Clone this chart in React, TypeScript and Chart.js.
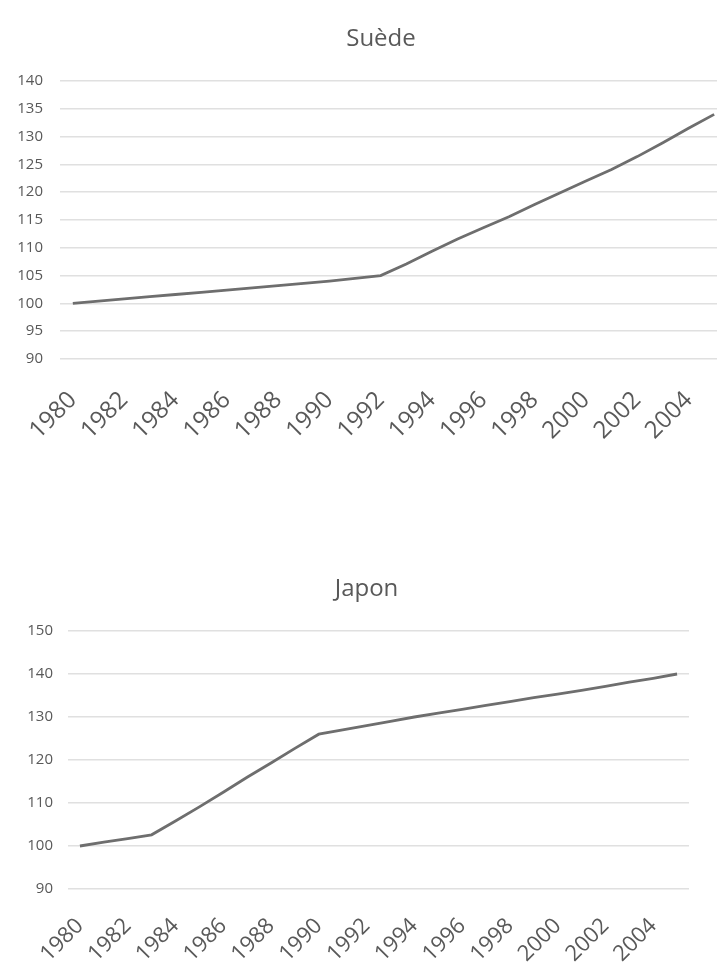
import React, { useEffect, useRef } from "react";
import { Chart, registerables } from "chart.js";

Chart.register(...registerables);

// Years 1980–2005, one point per year
const years = [
  "1980", "1981", "1982", "1983", "1984", "1985", "1986", "1987", "1988",
  "1989", "1990", "1991", "1992", "1993", "1994", "1995", "1996", "1997",
  "1998", "1999", "2000", "2001", "2002", "2003", "2004", "2005",
];

// Only every other year is labelled on the horizontal axis
const shownYears = [
  "1980", "1982", "1984", "1986", "1988", "1990", "1992",
  "1994", "1996", "1998", "2000", "2002", "2004",
];

// Index, 1980 = 100
const swedenValues = [
  100.0, 100.4, 100.8, 101.2, 101.6, 102.0, 102.4, 102.8, 103.2,
  103.6, 104.0, 104.5, 105.0, 107.1, 109.4, 111.6, 113.6, 115.6,
  117.8, 119.9, 122.0, 124.1, 126.4, 128.9, 131.5, 134.0,
];

const japanValues = [
  100.0, 100.9, 101.7, 102.6, 105.8, 109.1, 112.5, 116.0, 119.3,
  122.7, 126.0, 127.0, 128.0, 129.0, 130.0, 130.9, 131.8, 132.7,
  133.6, 134.5, 135.3, 136.2, 137.1, 138.1, 139.0, 140.0,
];

const FONT = "'Open Sans', 'Noto Sans', sans-serif";
const TEXT = "#595959";
const GRID = "#e0e0e0";
const LINE = "#6e6e6e";

type ChartProps = {
  title: string;
  values: number[];
  min: number;
  max: number;
  step: number;
  left: number;
  top: number;
  width: number;
  height: number;
  axisWidth: number;
  rightSpace: number;
  yLabelPad: number;
  xLabelPad: number;
  titleTop: number;
  titleBottom: number;
  titleSize: number;
  xFontSize: number;
  yFontSize: number;
};

function IndexChart(p: ChartProps) {
  const ref = useRef<HTMLCanvasElement>(null);

  useEffect(() => {
    const canvas = ref.current;
    if (!canvas) return;
    const chart = new Chart(canvas, {
      type: "line",
      data: {
        labels: years,
        datasets: [
          {
            label: p.title,
            data: p.values,
            borderColor: LINE,
            borderWidth: 2.8,
            pointRadius: 0,
            tension: 0,
            fill: false,
            yAxisID: "y",
          },
        ],
      },
      options: {
        responsive: false,
        animation: false,
        layout: { padding: 0 },
        plugins: {
          legend: { display: false },
          tooltip: { enabled: false },
          title: {
            display: true,
            text: p.title,
            color: TEXT,
            font: { family: FONT, size: p.titleSize, weight: "normal" },
            padding: { top: p.titleTop, bottom: p.titleBottom },
          },
        },
        scales: {
          x: {
            offset: true,
            grid: { display: false },
            border: { display: false },
            ticks: {
              autoSkip: false,
              minRotation: 45,
              maxRotation: 45,
              padding: p.xLabelPad,
              color: TEXT,
              font: { family: FONT, size: p.xFontSize },
              callback: (_v: any, i: number) =>
                shownYears.includes(years[i]) ? years[i] : "",
            },
            afterFit: (s: any) => {
              s.height = 100;
              s.paddingLeft = 0;
              s.paddingRight = 0;
            },
          },
          y: {
            min: p.min,
            max: p.max,
            grid: { color: GRID, lineWidth: 1.5, drawTicks: false },
            border: { display: false },
            ticks: {
              stepSize: p.step,
              padding: p.yLabelPad,
              color: TEXT,
              font: { family: FONT, size: p.yFontSize },
            },
            afterFit: (s: any) => {
              s.width = p.axisWidth;
              s.paddingTop = 0;
              s.paddingBottom = 0;
            },
          },
          // empty strip on the right of the plot, so the title sits over the whole figure
          side: {
            type: "linear",
            position: "right",
            grid: { display: false },
            border: { display: false },
            ticks: { display: false },
            afterFit: (s: any) => {
              s.width = p.rightSpace;
              s.paddingTop = 0;
              s.paddingBottom = 0;
            },
          },
        },
      },
    });
    return () => chart.destroy();
  }, []);

  return (
    <canvas
      ref={ref}
      width={p.width}
      height={p.height}
      style={{
        position: "absolute",
        left: p.left,
        top: p.top,
        width: p.width,
        height: p.height,
      }}
    />
  );
}

export default function App() {
  return (
    <div
      style={{
        position: "fixed",
        left: 0,
        top: 0,
        width: 717,
        height: 964,
        overflow: "hidden",
        background: "#ffffff",
      }}
    >
      <IndexChart
        title="Suède"
        values={swedenValues}
        min={90}
        max={140}
        step={5}
        left={0}
        top={0}
        width={762}
        height={459}
        axisWidth={60}
        rightSpace={35}
        yLabelPad={17}
        xLabelPad={19}
        titleTop={25}
        titleBottom={27.2}
        titleSize={24}
        xFontSize={24}
        yFontSize={15}
      />
      <IndexChart
        title="Japon"
        values={japanValues}
        min={90}
        max={150}
        step={10}
        left={0}
        top={540}
        width={733}
        height={449}
        axisWidth={68}
        rightSpace={44}
        yLabelPad={15}
        xLabelPad={16}
        titleTop={35.1}
        titleBottom={27.1}
        titleSize={24}
        xFontSize={22}
        yFontSize={15}
      />
    </div>
  );
}
